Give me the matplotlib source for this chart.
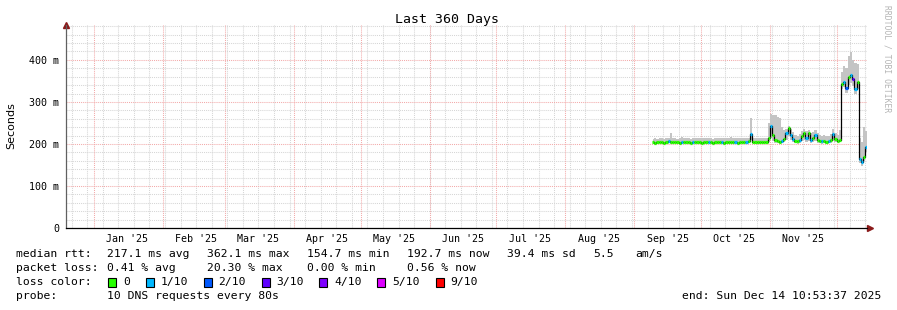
import datetime as dt
import pandas as pd
import matplotlib
matplotlib.use("Agg")
import matplotlib.pyplot as plt

# Datos (una muestra por dia, 9 sep -> 14 dic 2025)
inicio_datos = "2025-09-09 12:00"

mediana = [
    # sep
    204, 203, 204, 205, 204, 203, 204, 206, 205, 204, 205, 204, 203, 204, 205, 204, 204, 203, 204, 205, 204, 204,
    # oct
    203, 204, 204, 205, 204, 203, 204, 204, 205, 204, 203, 204, 204, 205, 204, 204, 203, 204, 205, 204, 204, 206,
    224, 205, 204, 204, 204, 205, 204, 205, 215,
    # nov
    243, 222, 210, 206, 205, 207, 212, 225, 238, 222, 212, 208, 206, 210, 218, 226, 214, 225, 210, 214,
    222, 210, 207, 206, 207, 205, 206, 210, 224, 212,
    # dic
    208, 209, 342, 348, 332, 360, 364, 355, 330, 348, 165, 156, 170, 192,
]

humo_alto = [
    212, 213, 212, 214, 213, 212, 213, 215, 226, 213, 214, 212, 213, 216, 213, 214, 213, 212, 213, 214, 213, 213,
    213, 213, 214, 213, 213, 212, 214, 213, 215, 213, 214, 213, 213, 216, 213, 213, 214, 213, 214, 213, 214, 215,
    262, 214, 213, 213, 214, 213, 214, 215, 250,
    272, 270, 268, 265, 262, 240, 232, 236, 242, 236, 228, 222, 218, 224, 230, 236, 230, 234, 226, 228,
    232, 226, 222, 220, 222, 218, 220, 224, 236, 226,
    222, 232, 372, 385, 380, 410, 419, 400, 392, 390, 215, 205, 240, 230,
]

humo_bajo = [
    201, 200, 201, 202, 201, 200, 201, 202, 201, 201, 202, 201, 200, 201, 202, 201, 201, 200, 201, 202, 201, 201,
    200, 201, 201, 202, 201, 200, 201, 201, 202, 201, 200, 201, 201, 202, 201, 201, 200, 201, 202, 201, 201, 202,
    210, 202, 201, 201, 201, 202, 201, 202, 205,
    215, 208, 203, 202, 201, 202, 204, 210, 218, 210, 204, 202, 201, 203, 206, 210, 205, 208, 203, 205,
    208, 203, 202, 201, 202, 201, 202, 203, 208, 205,
    203, 204, 330, 335, 322, 340, 345, 338, 318, 330, 155, 148, 160, 180,
]

# perdida en decimos (0 .. 10)
perdida = [
    0, 0, 0, 0, 0, 0, 0, 1, 0, 0, 0, 0, 0, 1, 0, 0, 0, 0, 1, 0, 0, 0,
    0, 0, 0, 1, 0, 0, 0, 0, 0, 1, 0, 0, 0, 0, 0, 1, 0, 0, 0, 0, 1, 0,
    1, 0, 0, 0, 0, 0, 0, 0, 0,
    1, 0, 0, 0, 0, 1, 0, 1, 0, 1, 1, 0, 0, 1, 0, 0, 1, 0, 1, 0,
    1, 0, 0, 1, 0, 0, 1, 0, 1, 0,
    0, 0, 0, 1, 2, 0, 1, 3, 1, 0, 1, 1, 0, 1,
]

colores_perdida = {0: "#26ff00", 1: "#00b8ff", 2: "#0059ff", 3: "#5e00ff",
                   4: "#7e00ff", 5: "#dd00ff", 9: "#ff0000"}
etiquetas_perdida = ["0", "1/10", "2/10", "3/10", "4/10", "5/10", "9/10"]
niveles_perdida = [0, 1, 2, 3, 4, 5, 9]

meses = ["Jan '25", "Feb '25", "Mar '25", "Apr '25", "May '25", "Jun '25",
         "Jul '25", "Aug '25", "Sep '25", "Oct '25", "Nov '25"]
ticks_y = [0, 100, 200, 300, 400]

fin = dt.datetime(2025, 12, 14, 10, 53, 37)
inicio = fin - dt.timedelta(days=360)

W, H = 897, 310
MONO = "DejaVu Sans Mono"


def fx(x):
    return x / W


def fy(y):
    return 1 - y / H


fig = plt.figure(figsize=(W / 100, H / 100), dpi=100)
ax = fig.add_axes([fx(66), fy(228), fx(866.5) - fx(66), fy(25) - fy(228)])
ax.set_xlim(inicio, fin)
ax.set_ylim(0, 483)

# Rejilla: menor gris cada 20 ms / semanal, mayor roja cada 100 ms / mensual
punteado = (0, (1, 1))
gris = dict(color="#d6d6d6", lw=0.75, ls=punteado, zorder=0)
rojo = dict(color="#f3aaaa", lw=0.75, ls=punteado, zorder=0.5)
for v in range(20, 483, 20):
    if v % 100:
        ax.axhline(v, **gris)
domingo = dt.datetime(2024, 12, 22)
while domingo < fin:
    ax.axvline(domingo, **gris)
    domingo += dt.timedelta(days=7)
for v in range(100, 483, 100):
    ax.axhline(v, **rojo)
for m in range(1, 13):
    ax.axvline(dt.datetime(2025, m, 1), **rojo)

# Humo, mediana y perdida
fechas = pd.date_range(inicio_datos, periods=len(mediana), freq="D")
ax.fill_between(fechas, humo_bajo, humo_alto, step="mid", color="#c4c4c4", lw=0, zorder=1)
ax.plot(fechas, mediana, color="black", lw=0.9, drawstyle="steps-mid", zorder=2)
medio_dia = pd.Timedelta(hours=12)
for f, m, p in zip(fechas, mediana, perdida):
    ax.hlines(m, f - medio_dia, f + medio_dia, colors=colores_perdida[p], lw=2.3, zorder=3)

# Ejes
for lado in ["top", "right"]:
    ax.spines[lado].set_visible(False)
ax.spines["left"].set_color("#606060")
ax.spines["left"].set_linewidth(0.9)
ax.spines["bottom"].set_color("black")
ax.spines["bottom"].set_linewidth(0.9)
ax.plot([0], [1], marker="^", color="#8b1a1a", ms=4, transform=ax.transAxes, clip_on=False)
ax.plot([1.004], [0], marker=">", color="#8b1a1a", ms=4, transform=ax.transAxes, clip_on=False)

ax.set_yticks(ticks_y)
ax.set_yticklabels([f"{v} m" if v else "0" for v in ticks_y], family=MONO, fontsize=7.2)
ax.set_xticks([dt.datetime(2025, i + 1, 16) for i in range(len(meses))])
ax.set_xticklabels(meses, family=MONO, fontsize=7.2)
ax.tick_params(axis="y", length=0, pad=5)
ax.tick_params(axis="x", length=0, pad=4)

# Textos
fig.text(fx(447), fy(19), "Last 360 Days", ha="center", va="center", family=MONO, fontsize=9.5)
fig.text(fx(11), fy(126), "Seconds", ha="center", va="center", rotation=90, fontsize=8)
fig.text(fx(887), fy(5), "RRDTOOL / TOBI OETIKER", ha="center", va="top", rotation=270,
         family=MONO, fontsize=5.8, color="#b4b4b4")

# Leyenda
filas = [254, 268, 282, 296]
fs = 8.2
fig.text(fx(16), fy(filas[0]), "median rtt:", va="center", family=MONO, fontsize=fs)
for x, s in zip([107, 207, 307, 407, 507, 593, 635],
                ["217.1 ms avg", "362.1 ms max", "154.7 ms min", "192.7 ms now",
                 "39.4 ms sd", "5.5", "am/s"]):
    fig.text(fx(x), fy(filas[0]), s, va="center", family=MONO, fontsize=fs)
fig.text(fx(16), fy(filas[1]), "packet loss:", va="center", family=MONO, fontsize=fs)
for x, s in zip([107, 207, 307, 407],
                ["0.41 % avg", "20.30 % max", "0.00 % min", "0.56 % now"]):
    fig.text(fx(x), fy(filas[1]), s, va="center", family=MONO, fontsize=fs)
fig.text(fx(16), fy(filas[2]), "loss color:", va="center", family=MONO, fontsize=fs)
for x, n, s in zip([108, 145.5, 203.5, 261.5, 319, 377, 435.5], niveles_perdida, etiquetas_perdida):
    fig.patches.append(plt.Rectangle((fx(x), fy(286.5)), fx(8), fy(278) - fy(286.5),
                                     transform=fig.transFigure, facecolor=colores_perdida[n],
                                     edgecolor="black", lw=0.8))
    fig.text(fx(x + 15), fy(filas[2]), s, va="center", family=MONO, fontsize=fs)
fig.text(fx(16), fy(filas[3]), "probe:", va="center", family=MONO, fontsize=fs)
fig.text(fx(107), fy(filas[3]), "10 DNS requests every 80s", va="center", family=MONO, fontsize=fs)
fig.text(fx(881), fy(filas[3]), "end: Sun Dec 14 10:53:37 2025", ha="right", va="center",
         family=MONO, fontsize=fs)

fig.savefig("out.png", dpi=100)
